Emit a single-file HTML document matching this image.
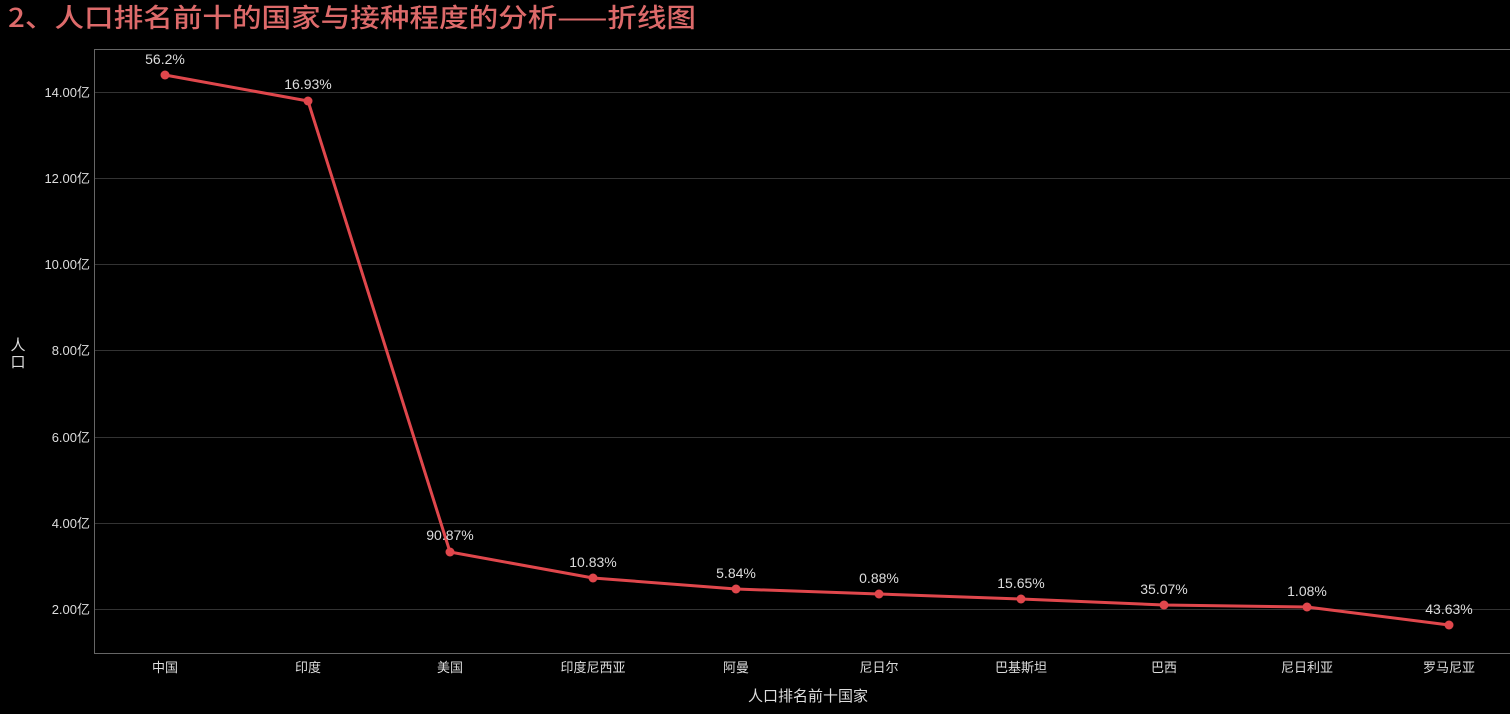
<!DOCTYPE html>
<html><head><meta charset="utf-8"><style>
html,body{margin:0;padding:0;background:#000;width:1510px;height:714px;overflow:hidden}
svg text{font-family:"Liberation Sans","Noto Sans CJK SC",sans-serif}
</style></head><body>
<svg width="1510" height="714" xmlns="http://www.w3.org/2000/svg">
<rect width="1510" height="714" fill="#000"/>
<text x="8" y="27" font-size="26" font-weight="500" fill="#dd6a6a" textLength="688" lengthAdjust="spacingAndGlyphs" style="font-family:'Noto Sans CJK SC',sans-serif">2、人口排名前十的国家与接种程度的分析——折线图</text>
<g stroke="#333" stroke-width="1">
<line x1="94" y1="92.5" x2="1510" y2="92.5"/>
<line x1="94" y1="178.5" x2="1510" y2="178.5"/>
<line x1="94" y1="264.5" x2="1510" y2="264.5"/>
<line x1="94" y1="350.5" x2="1510" y2="350.5"/>
<line x1="94" y1="437.5" x2="1510" y2="437.5"/>
<line x1="94" y1="523.5" x2="1510" y2="523.5"/>
<line x1="94" y1="609.5" x2="1510" y2="609.5"/>
</g>
<g stroke="#666" stroke-width="1" fill="none">
<polyline points="94.5,653 94.5,49.5 1510,49.5"/>
<line x1="94" y1="653.5" x2="1510" y2="653.5"/>
</g>
<g font-size="13" fill="#ddd" text-anchor="end">
<text x="90" y="97">14.00亿</text>
<text x="90" y="183">12.00亿</text>
<text x="90" y="269">10.00亿</text>
<text x="90" y="355">8.00亿</text>
<text x="90" y="442">6.00亿</text>
<text x="90" y="528">4.00亿</text>
<text x="90" y="614">2.00亿</text>
</g>
<text x="18" y="350" font-size="15" fill="#ddd" text-anchor="middle">人</text>
<text x="18" y="367" font-size="15" fill="#ddd" text-anchor="middle">口</text>
<g font-size="13" fill="#ddd" text-anchor="middle">
<text x="165" y="672">中国</text><text x="308" y="672">印度</text><text x="450" y="672">美国</text>
<text x="593" y="672">印度尼西亚</text><text x="736" y="672">阿曼</text><text x="879" y="672">尼日尔</text>
<text x="1021" y="672">巴基斯坦</text><text x="1164" y="672">巴西</text><text x="1307" y="672">尼日利亚</text>
<text x="1449" y="672">罗马尼亚</text>
</g>
<text x="808" y="701" font-size="15" fill="#ddd" text-anchor="middle">人口排名前十国家</text>
<polyline fill="none" stroke="#e0474c" stroke-width="3" stroke-linejoin="round" points="165,75 308,101 450,552 593,578 736,589 879,594 1021,599 1164,605 1307,607 1449,625"/>
<g fill="#e0474c">
<circle cx="165" cy="75" r="4.5"/><circle cx="308" cy="101" r="4.5"/><circle cx="450" cy="552" r="4.5"/>
<circle cx="593" cy="578" r="4.5"/><circle cx="736" cy="589" r="4.5"/><circle cx="879" cy="594" r="4.5"/>
<circle cx="1021" cy="599" r="4.5"/><circle cx="1164" cy="605" r="4.5"/><circle cx="1307" cy="607" r="4.5"/>
<circle cx="1449" cy="625" r="4.5"/>
</g>
<g font-size="14" fill="#ddd" text-anchor="middle">
<text x="165" y="64">56.2%</text><text x="308" y="89">16.93%</text><text x="450" y="540">90.87%</text>
<text x="593" y="567">10.83%</text><text x="736" y="578">5.84%</text><text x="879" y="583">0.88%</text>
<text x="1021" y="588">15.65%</text><text x="1164" y="594">35.07%</text><text x="1307" y="596">1.08%</text>
<text x="1449" y="614">43.63%</text>
</g>
</svg>
</body></html>
